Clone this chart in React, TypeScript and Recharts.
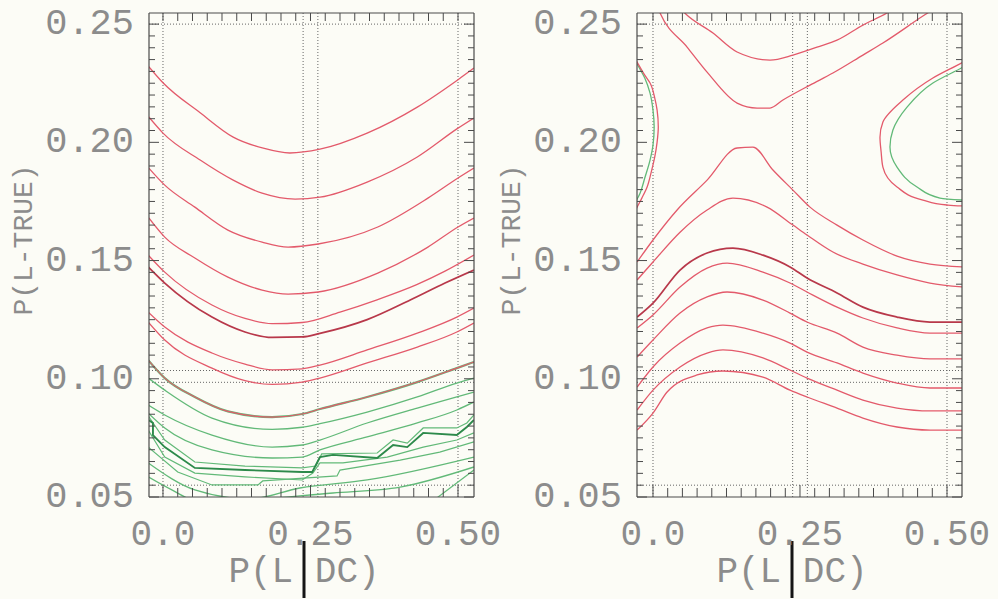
import React from "react";
import { LineChart, Line, XAxis, YAxis, ReferenceLine } from "recharts";

// ---- tick labels / grid values ----
const xTickValues = [0, 0.25, 0.5];
const xTickLabels = ["0.0", "0.25", "0.50"];
const yTickValues = [0.05, 0.1, 0.15, 0.2, 0.25];
const yTickLabels = ["0.05", "0.10", "0.15", "0.20", "0.25"];
const xMinorTicks = Array.from({ length: 21 }, (_, i) => i * 0.025);
const yMinorTicks = Array.from({ length: 41 }, (_, i) => 0.05 + i * 0.005);
const gridX = [0, 0.2375, 0.2625, 0.5];
const gridY = [0.25, 0.1035, 0.0985, 0.055];

// ---- left panel: red contours ----
const leftRed1 = [[-0.024, 0.232], [0, 0.2252], [0.063, 0.2125], [0.119, 0.2022], [0.17, 0.1975], [0.215, 0.1955], [0.266, 0.1971], [0.346, 0.2039], [0.431, 0.2149], [0.5, 0.2265], [0.527, 0.2314]];
const leftRed2 = [[-0.024, 0.2107], [0, 0.2039], [0.063, 0.1925], [0.119, 0.184], [0.168, 0.1785], [0.224, 0.176], [0.266, 0.1768], [0.346, 0.1832], [0.431, 0.1938], [0.5, 0.206], [0.527, 0.2103]];
const leftRed3 = [[-0.024, 0.1891], [0.003, 0.1819], [0.054, 0.1726], [0.11, 0.1629], [0.168, 0.1578], [0.212, 0.1557], [0.263, 0.157], [0.364, 0.1642], [0.449, 0.1764], [0.5, 0.1849], [0.527, 0.1891]];
const leftRed4 = [[-0.024, 0.168], [0.003, 0.1599], [0.054, 0.1511], [0.11, 0.143], [0.168, 0.1375], [0.212, 0.1358], [0.263, 0.1367], [0.364, 0.1447], [0.449, 0.1557], [0.5, 0.1642], [0.527, 0.168]];
const leftRed5 = [[-0.025, 0.1523], [0.003, 0.1451], [0.083, 0.1312], [0.139, 0.1255], [0.185, 0.1233], [0.236, 0.1238], [0.3, 0.1282], [0.364, 0.1335], [0.43, 0.1398], [0.478, 0.1455], [0.527, 0.1523]];
const leftRed6 = [[-0.025, 0.1473], [0.003, 0.1405], [0.083, 0.1261], [0.139, 0.1198], [0.185, 0.1175], [0.236, 0.1177], [0.266, 0.1192], [0.346, 0.125], [0.419, 0.1333], [0.478, 0.1405], [0.527, 0.146]];
const leftRed7 = [[-0.025, 0.1282], [0.003, 0.1219], [0.083, 0.1109], [0.139, 0.1062], [0.185, 0.1038], [0.236, 0.1042], [0.266, 0.1058], [0.346, 0.1122], [0.431, 0.1193], [0.498, 0.1261], [0.527, 0.1299]];
const leftRed8 = [[-0.025, 0.124], [0.003, 0.1164], [0.083, 0.1045], [0.139, 0.0992], [0.185, 0.0976], [0.236, 0.0986], [0.266, 0.1003], [0.346, 0.1067], [0.431, 0.1134], [0.498, 0.1198], [0.527, 0.1236]];
const leftRed9 = [[-0.025, 0.1079], [0.003, 0.1003], [0.054, 0.0923], [0.11, 0.0862], [0.185, 0.0838], [0.236, 0.0851], [0.266, 0.0872], [0.346, 0.0923], [0.431, 0.0986], [0.498, 0.1045], [0.527, 0.1071]];

// ---- left panel: green contours ----
const leftGreen1 = [[-0.025, 0.1003], [0.003, 0.0952], [0.083, 0.0834], [0.185, 0.0786], [0.236, 0.0795], [0.266, 0.081], [0.346, 0.0859], [0.431, 0.0923], [0.498, 0.0982], [0.527, 0.1003]];
const leftGreen2 = [[-0.025, 0.0889], [0.003, 0.0847], [0.083, 0.0762], [0.185, 0.0711], [0.236, 0.072], [0.266, 0.0741], [0.346, 0.0813], [0.431, 0.0876], [0.498, 0.0923], [0.527, 0.0944]];
const leftGreen3 = [[-0.025, 0.0855], [0.003, 0.0792], [0.083, 0.0699], [0.185, 0.0665], [0.236, 0.0669], [0.266, 0.0699], [0.346, 0.0754], [0.431, 0.0813], [0.498, 0.0868], [0.527, 0.0902]];
const leftGreen4 = [[-0.025, 0.0843], [0.003, 0.0741], [0.054, 0.0648], [0.139, 0.0631], [0.236, 0.0623], [0.259, 0.0631], [0.269, 0.0682], [0.363, 0.0686], [0.39, 0.0741], [0.414, 0.0728], [0.441, 0.0792], [0.498, 0.0792], [0.515, 0.0813], [0.527, 0.0847]];
const leftGreenDark = [[-0.025, 0.0826], [-0.017, 0.0813], [-0.017, 0.0762], [0.003, 0.0711], [0.054, 0.0623], [0.139, 0.0614], [0.236, 0.0606], [0.253, 0.0606], [0.266, 0.0669], [0.288, 0.0678], [0.363, 0.0665], [0.39, 0.072], [0.414, 0.0711], [0.441, 0.0771], [0.498, 0.0762], [0.515, 0.0796], [0.527, 0.0826]];
const leftGreen5 = [[-0.025, 0.0783], [0.003, 0.0669], [0.054, 0.0601], [0.139, 0.0585], [0.236, 0.0572], [0.254, 0.0601], [0.266, 0.0644], [0.305, 0.0644], [0.38, 0.0669], [0.441, 0.0711], [0.498, 0.0741], [0.527, 0.0771]];
const leftGreen6 = [[-0.025, 0.0711], [0.025, 0.0606], [0.083, 0.0551], [0.161, 0.0551], [0.169, 0.0568], [0.295, 0.0589], [0.3, 0.0614], [0.402, 0.0656], [0.469, 0.069], [0.527, 0.0733]];
const leftGreen7 = [[-0.025, 0.0644], [0.054, 0.053], [0.147, 0.0492], [0.232, 0.0538], [0.346, 0.0572], [0.527, 0.0669]];
const leftGreen8 = [[-0.025, 0.0585], [0.015, 0.053], [0.063, 0.0479], [0.288, 0.0517], [0.402, 0.0542], [0.527, 0.0627]];
const leftGreen9 = [[0.453, 0.0475], [0.527, 0.0614]];

// ---- right panel: red contours ----
const rightRed1 = [[0.046, 0.2568], [0.054, 0.2547], [0.102, 0.2462], [0.143, 0.2382], [0.199, 0.2348], [0.238, 0.2369], [0.279, 0.2403], [0.313, 0.2432], [0.357, 0.2496], [0.398, 0.2547], [0.412, 0.2568]];
const rightRed2 = [[0.003, 0.2602], [0.012, 0.2547], [0.058, 0.2403], [0.092, 0.2297], [0.143, 0.2166], [0.177, 0.2145], [0.199, 0.2145], [0.221, 0.2179], [0.267, 0.2242], [0.306, 0.2293], [0.357, 0.2369], [0.391, 0.242], [0.459, 0.2534], [0.48, 0.2568]];
const rightRed3 = [[-0.027, 0.1494], [0, 0.1587], [0.041, 0.1714], [0.092, 0.184], [0.143, 0.1976], [0.17, 0.198], [0.204, 0.1883], [0.238, 0.1798], [0.267, 0.1726], [0.313, 0.165], [0.357, 0.1587], [0.415, 0.1519], [0.471, 0.1485], [0.527, 0.1473]];
const rightRed4 = [[-0.027, 0.1418], [0, 0.1494], [0.046, 0.162], [0.092, 0.1714], [0.136, 0.1764], [0.194, 0.1726], [0.238, 0.165], [0.262, 0.1608], [0.306, 0.1536], [0.357, 0.1485], [0.415, 0.1439], [0.471, 0.1405], [0.527, 0.1388]];
const rightRed5 = [[-0.027, 0.1261], [0, 0.132], [0.046, 0.146], [0.092, 0.1532], [0.136, 0.1553], [0.187, 0.1523], [0.233, 0.1473], [0.262, 0.1426], [0.313, 0.1363], [0.357, 0.1303], [0.415, 0.1261], [0.471, 0.124], [0.527, 0.124]];
const rightRed6 = [[-0.027, 0.1215], [0, 0.127], [0.046, 0.1388], [0.092, 0.1468], [0.126, 0.1489], [0.187, 0.1451], [0.233, 0.1405], [0.262, 0.1367], [0.313, 0.1303], [0.357, 0.1257], [0.415, 0.1215], [0.471, 0.1193], [0.527, 0.1193]];
const rightRed7 = [[-0.027, 0.1092], [0, 0.1164], [0.046, 0.1278], [0.092, 0.1346], [0.126, 0.1367], [0.187, 0.1333], [0.233, 0.1278], [0.262, 0.124], [0.313, 0.1193], [0.357, 0.1134], [0.415, 0.11], [0.471, 0.1084], [0.527, 0.1084]];
const rightRed8 = [[-0.027, 0.0965], [0, 0.105], [0.046, 0.1151], [0.092, 0.1215], [0.119, 0.1227], [0.187, 0.1193], [0.233, 0.1151], [0.262, 0.1113], [0.313, 0.1067], [0.357, 0.1024], [0.415, 0.0982], [0.471, 0.0961], [0.527, 0.0961]];
const rightRed9 = [[-0.027, 0.0868], [0, 0.0952], [0.046, 0.105], [0.092, 0.1109], [0.119, 0.1122], [0.187, 0.1088], [0.233, 0.1037], [0.262, 0.1003], [0.313, 0.0952], [0.357, 0.091], [0.415, 0.0876], [0.471, 0.0864], [0.527, 0.0864]];
const rightRed10 = [[-0.027, 0.0783], [0, 0.0855], [0.024, 0.0944], [0.075, 0.1016], [0.119, 0.1033], [0.187, 0.1007], [0.233, 0.0952], [0.262, 0.0923], [0.313, 0.0876], [0.357, 0.0834], [0.415, 0.0796], [0.471, 0.0783], [0.527, 0.0783]];
const rightArcRed = [[-0.043, 0.2411], [-0.027, 0.2339], [-0.014, 0.2284], [-0.005, 0.2251], [0.003, 0.2187], [0.007, 0.2136], [0.009, 0.2065], [0.007, 0.2001], [0.003, 0.1938], [-0.003, 0.1874], [-0.01, 0.1811], [-0.019, 0.1764], [-0.027, 0.1726], [-0.039, 0.1663]];
const rightArcGreen = [[-0.039, 0.239], [-0.026, 0.2327], [-0.014, 0.2272], [-0.005, 0.2208], [0, 0.2136], [0.002, 0.2065], [0, 0.1988], [-0.005, 0.1925], [-0.014, 0.1849], [-0.022, 0.1785], [-0.036, 0.1722]];
const rightLoopRed = [[0.548, 0.2369], [0.527, 0.2339], [0.476, 0.2272], [0.425, 0.2179], [0.391, 0.2086], [0.386, 0.2022], [0.388, 0.1959], [0.391, 0.1895], [0.415, 0.1811], [0.459, 0.1756], [0.5, 0.1735], [0.527, 0.1731], [0.548, 0.173]];
const rightLoopGreen = [[0.548, 0.2348], [0.527, 0.2318], [0.476, 0.2251], [0.432, 0.2149], [0.408, 0.2052], [0.403, 0.198], [0.415, 0.1895], [0.449, 0.1811], [0.488, 0.1764], [0.526, 0.1756], [0.548, 0.1755]];

// ---- styling ----
const RED = "#e35a6b";
const DARK_RED = "#b8384a";
const GREEN = "#62b978";
const DARK_GREEN = "#2d8a4b";
const FRAME = "#4a4a4a";
const GRID = "#666";
const TEXT = "#8c8c8c";
const FONT = '"Liberation Mono", "DejaVu Sans Mono", monospace';

const W = 510;
const H = 599;
const PLOT_TOP = 13;
const PLOT_BOTTOM = 497;
const PLOT_LEFT = 149;
const PLOT_RIGHT = 474;
// each frame axis takes 1px, so the margins are 1px smaller
const margin = { top: PLOT_TOP - 1, right: W - PLOT_RIGHT - 1, bottom: H - PLOT_BOTTOM - 1, left: PLOT_LEFT - 1 };
const yDomain = [0.05, 0.2547];

type Curve = "monotone" | "linear" | "monotoneY";
interface Series {
  name: string;
  data: number[][];
  color: string;
  width: number;
  curve: Curve;
}

const s = (name: string, data: number[][], color: string, width = 1.3, curve: Curve = "monotone"): Series => ({ name, data, color, width, curve });

const leftSeries: Series[] = [
  s("g1", leftGreen1, GREEN),
  s("g2", leftGreen2, GREEN),
  s("g3", leftGreen3, GREEN),
  s("g4", leftGreen4, GREEN, 1.2, "linear"),
  s("g5", leftGreen5, GREEN, 1.2, "linear"),
  s("g6", leftGreen6, GREEN, 1.2, "linear"),
  s("g7", leftGreen7, GREEN),
  s("g8", leftGreen8, GREEN),
  s("g9", leftGreen9, GREEN, 1.2, "linear"),
  s("gd", leftGreenDark, DARK_GREEN, 1.9, "linear"),
  s("g0", leftRed9, GREEN, 2.2),
  s("r1", leftRed1, RED),
  s("r2", leftRed2, RED),
  s("r3", leftRed3, RED),
  s("r4", leftRed4, RED),
  s("r5", leftRed5, RED),
  s("r6", leftRed6, DARK_RED, 1.7),
  s("r7", leftRed7, RED),
  s("r8", leftRed8, RED),
  s("r9", leftRed9, RED, 1.1)
];

const rightSeries: Series[] = [
  s("ag", rightArcGreen, GREEN, 1.3, "monotoneY"),
  s("lg", rightLoopGreen, GREEN, 1.3, "monotoneY"),
  s("ar", rightArcRed, RED, 1.3, "monotoneY"),
  s("lr", rightLoopRed, RED, 1.3, "monotoneY"),
  s("r1", rightRed1, RED),
  s("r2", rightRed2, RED),
  s("r3", rightRed3, RED),
  s("r4", rightRed4, RED),
  s("r5", rightRed5, DARK_RED, 1.7),
  s("r6", rightRed6, RED),
  s("r7", rightRed7, RED),
  s("r8", rightRed8, RED),
  s("r9", rightRed9, RED),
  s("r10", rightRed10, RED)
];

const findLabel = (values: number[], labels: string[], v: number) => {
  const i = values.findIndex((t) => Math.abs(t - v) < 1e-6);
  return i >= 0 ? labels[i] : null;
};

function bottomTick(props: any) {
  const { x, payload } = props;
  const label = findLabel(xTickValues, xTickLabels, payload.value);
  return (
    <g>
      <line x1={x} x2={x} y1={PLOT_BOTTOM} y2={PLOT_BOTTOM - (label ? 12 : 9)} stroke={FRAME} strokeWidth={1} />
      {label && (
        <text x={x} y={535} textAnchor="middle" dominantBaseline="central" fontFamily={FONT} fontSize={36} fill={TEXT}>
          {label}
        </text>
      )}
    </g>
  );
}

function topTick(props: any) {
  const { x } = props;
  return <line x1={x} x2={x} y1={PLOT_TOP} y2={PLOT_TOP + 8} stroke={FRAME} strokeWidth={1} />;
}

function leftTick(props: any) {
  const { y, payload } = props;
  const label = findLabel(yTickValues, yTickLabels, payload.value);
  return (
    <g>
      <line x1={PLOT_LEFT} x2={PLOT_LEFT + (label ? 10 : 6)} y1={y} y2={y} stroke={FRAME} strokeWidth={1} />
      {label && (
        <text x={PLOT_LEFT - 15} y={y} textAnchor="end" dominantBaseline="central" fontFamily={FONT} fontSize={37} fill={TEXT}>
          {label}
        </text>
      )}
    </g>
  );
}

function rightTick(props: any) {
  const { y, payload } = props;
  const major = findLabel(yTickValues, yTickLabels, payload.value);
  return <line x1={PLOT_RIGHT} x2={PLOT_RIGHT - (major ? 10 : 6)} y1={y} y2={y} stroke={FRAME} strokeWidth={1} />;
}

function XTitle() {
  const cx = 304;
  return (
    <g>
      <text x={cx} y={572} textAnchor="middle" dominantBaseline="central" fontFamily={FONT} fontSize={36} fill={TEXT}>
        P(L DC)
      </text>
      <line x1={cx} x2={cx} y1={541} y2={598} stroke="#151515" strokeWidth={3} />
    </g>
  );
}

function YTitle() {
  return (
    <text x={24} y={240} transform="rotate(-90, 24, 240)" textAnchor="middle" dominantBaseline="central" fontFamily={FONT} fontSize={28} fill={TEXT}>
      P(L-TRUE)
    </text>
  );
}

function Panel({ series, xDomain, left }: { series: Series[]; xDomain: number[]; left: number }) {
  const frame = { stroke: FRAME, strokeWidth: 1.2 };
  return (
    <div style={{ position: "absolute", left, top: 0 }}>
      <LineChart width={W} height={H} margin={margin}>
        <XAxis dataKey="x" type="number" domain={xDomain} allowDataOverflow ticks={xMinorTicks} interval={0} height={1} tickLine={false} axisLine={frame} tick={bottomTick} label={<XTitle />} />
        <XAxis xAxisId="top" orientation="top" dataKey="x" type="number" domain={xDomain} allowDataOverflow ticks={xMinorTicks} interval={0} height={1} tickLine={false} axisLine={frame} tick={topTick} />
        <YAxis dataKey="y" type="number" domain={yDomain} allowDataOverflow ticks={yMinorTicks} interval={0} width={1} tickLine={false} axisLine={frame} tick={leftTick} label={<YTitle />} />
        <YAxis yAxisId="right" orientation="right" dataKey="y" type="number" domain={yDomain} allowDataOverflow ticks={yMinorTicks} interval={0} width={1} tickLine={false} axisLine={frame} tick={rightTick} />
        {gridX.map((v) => (
          <ReferenceLine key={`gx${v}`} x={v} stroke={GRID} strokeDasharray="1 2" strokeWidth={1} />
        ))}
        {gridY.map((v) => (
          <ReferenceLine key={`gy${v}`} y={v} stroke={GRID} strokeDasharray="1 2" strokeWidth={1} />
        ))}
        {series.map((c) => (
          <Line
            key={c.name}
            data={c.data.map(([x, y]) => ({ x, y }))}
            dataKey="y"
            type={c.curve}
            stroke={c.color}
            strokeWidth={c.width}
            dot={false}
            activeDot={false}
            isAnimationActive={false}
          />
        ))}
      </LineChart>
    </div>
  );
}

export default function App() {
  return (
    <div style={{ position: "absolute", left: 0, top: 0, width: 998, height: 599, background: "#fcfcf6", overflow: "hidden" }}>
      <Panel series={leftSeries} xDomain={[-0.0237, 0.5271]} left={0} />
      <Panel series={rightSeries} xDomain={[-0.0272, 0.5255]} left={488} />
    </div>
  );
}
